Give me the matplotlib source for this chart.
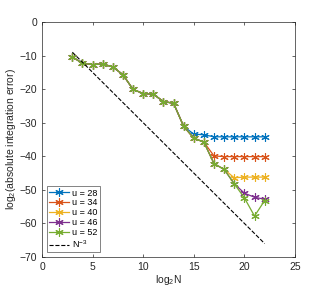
import numpy as np
import matplotlib
matplotlib.use("Agg")
import matplotlib.pyplot as plt

plt.rcParams['font.family'] = ['Liberation Sans', 'DejaVu Sans']
plt.rcParams['mathtext.fontset'] = 'custom'
plt.rcParams['mathtext.rm'] = 'Liberation Sans'

log2N = np.arange(3, 23)
common = [-10.4, -12.3, -12.7, -12.5, -13.4, -15.7, -20.1, -21.3, -21.5, -23.7, -24.2, -31.1]
u28 = common + [-33.4, -33.6, -34.2, -34.2, -34.2, -34.2, -34.2, -34.2]
u34 = common + [-34.6, -35.8, -39.9, -40.1, -40.1, -40.1, -40.1, -40.1]
u40 = common + [-34.6, -35.8, -42.2, -43.9, -46.4, -46.2, -46.2, -46.2]
u46 = common + [-34.6, -35.8, -42.2, -43.9, -48.2, -51.0, -52.2, -52.8]
u52 = common + [-34.6, -35.8, -42.2, -43.9, -48.2, -52.4, -57.8, -53.2]
labels = ["u = 28", "u = 34", "u = 40", "u = 46", "u = 52"]
colors = ["#0072BD", "#D95319", "#EDB120", "#7E2F8E", "#77AC30"]

fig = plt.figure(figsize=(3.27, 2.89), dpi=100)
ax = fig.add_axes([42 / 327, 1 - 257 / 289, 253 / 327, 235 / 289])

for vals, lab, c in zip([u28, u34, u40, u46, u52], labels, colors):
    ax.plot(log2N, vals, color=c, lw=0.9, marker=(6, 2, 0), ms=6, mew=0.8, label=lab)
ax.plot(log2N, -3 * log2N, 'k--', lw=0.8, label="N$^{-3}$")

ax.set_xlim(0, 25)
ax.set_ylim(-70, 0)
ax.set_xticks(range(0, 26, 5))
ax.set_yticks(range(-70, 1, 10))
ax.tick_params(direction='in', top=True, right=True, labelsize=7.5, colors='#262626',
               length=2.5, width=0.5)
for s in ax.spines.values():
    s.set_color('#262626')
    s.set_linewidth(0.5)
ax.set_xlabel("log$_2$N", fontsize=7.5, color='#262626', labelpad=1)
ax.set_ylabel("log$_2$(absolute integration error)", fontsize=7.5, color='#262626', labelpad=1)
leg = ax.legend(loc='lower left', fontsize=6.5, frameon=True, fancybox=False,
                handlelength=2.2, handletextpad=0.3, borderpad=0.3, labelspacing=0.1,
                borderaxespad=0.5)
leg.get_frame().set_edgecolor('#262626')
leg.get_frame().set_linewidth(0.5)

fig.savefig("out.png", dpi=100)
